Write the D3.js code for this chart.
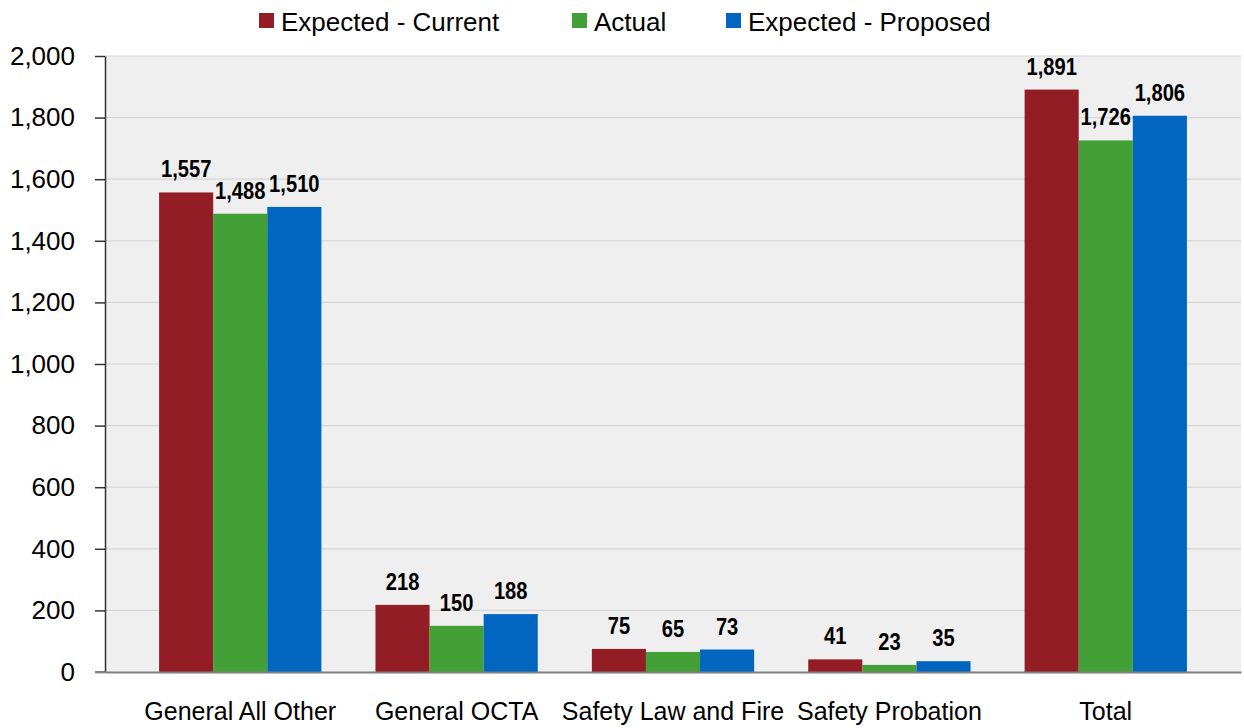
<!DOCTYPE html>
<html>
<head>
<meta charset="utf-8">
<script src="https://cdn.jsdelivr.net/npm/d3@7"></script>
<style>
  body { margin: 0; background: #ffffff; }
  svg { display: block; font-family: "Liberation Sans", Arial, sans-serif; }
</style>
</head>
<body>
<svg id="chart" width="1244" height="728"></svg>
<script>
// chart data
let categories = ['General All Other', 'General OCTA', 'Safety Law and Fire', 'Safety Probation', 'Total'];
let series_names = ['Expected - Current', 'Actual', 'Expected - Proposed'];
let expected_current = [1557, 218, 75, 41, 1891];
let actual = [1488, 150, 65, 23, 1726];
let expected_proposed = [1510, 188, 73, 35, 1806];
let y_ticks = [0, 200, 400, 600, 800, 1000, 1200, 1400, 1600, 1800, 2000];

let series_colors = ['#921d24', '#43a037', '#0066c0'];
let series_values = [expected_current, actual, expected_proposed];

let plot_left = 105, plot_right = 1241, plot_top = 56, plot_bottom = 672;

let svg = d3.select('#chart');

let x = d3.scaleBand()
    .domain(categories)
    .range([plot_left, plot_right])
    .paddingInner(0.25)
    .paddingOuter(0.25);

let x_inner = d3.scaleBand()
    .domain(series_names)
    .range([0, x.bandwidth()]);

let y = d3.scaleLinear()
    .domain([0, 2000])
    .range([plot_bottom, plot_top]);

// plot background
svg.append('rect')
    .attr('x', plot_left)
    .attr('y', plot_top)
    .attr('width', plot_right - plot_left)
    .attr('height', plot_bottom - plot_top)
    .attr('fill', '#efefef');

// gridlines
svg.append('g')
    .selectAll('line')
    .data(y_ticks.filter(d => d > 0))
    .join('line')
    .attr('x1', plot_left)
    .attr('x2', plot_right)
    .attr('y1', d => y(d))
    .attr('y2', d => y(d))
    .attr('stroke', '#d6d6d6')
    .attr('stroke-width', 1.2);

// bars
let table = [];
categories.forEach(function (c, i) {
    series_names.forEach(function (s, j) {
        table.push({category: c, series: s, value: series_values[j][i], color: series_colors[j]});
    });
});

let bars = svg.append('g');
bars.selectAll('rect')
    .data(table)
    .join('rect')
    .attr('x', d => x(d.category) + x_inner(d.series))
    .attr('y', d => y(d.value))
    .attr('width', x_inner.bandwidth())
    .attr('height', d => y(0) - y(d.value))
    .attr('fill', d => d.color);

// value labels (condensed bold)
let labels = svg.append('g');
labels.selectAll('text')
    .data(table)
    .join('text')
    .attr('transform', d => 'translate(' + (x(d.category) + x_inner(d.series) + x_inner.bandwidth() / 2) + ',' + (y(d.value) - 15) + ') scale(0.84,1)')
    .attr('text-anchor', 'middle')
    .style('font-size', '24px')
    .style('font-weight', 'bold')
    .attr('fill', '#000')
    .text(d => d3.format(',')(d.value));

// y axis
let y_axis = svg.append('g')
    .attr('transform', 'translate(' + plot_left + ',0)')
    .call(d3.axisLeft(y).tickValues(y_ticks).tickFormat(d3.format(',')).tickSize(10).tickSizeOuter(0).tickPadding(20));

y_axis.select('.domain').attr('stroke', '#333').attr('stroke-width', 1.5);
y_axis.selectAll('.tick line').attr('stroke', '#333').attr('stroke-width', 1.5);
y_axis.selectAll('.tick text')
    .style('font-size', '26px')
    .style('font-family', '"Liberation Sans", Arial, sans-serif')
    .attr('fill', '#000');

// x axis
let x_axis = svg.append('g')
    .attr('transform', 'translate(0,' + plot_bottom + ')')
    .call(d3.axisBottom(x).tickSize(0).tickSizeOuter(0).tickPadding(30));

x_axis.select('.domain').attr('stroke', '#808080').attr('stroke-width', 2);
x_axis.selectAll('.tick text')
    .style('font-size', '25px')
    .style('font-family', '"Liberation Sans", Arial, sans-serif')
    .attr('fill', '#000');

svg.append('line')
    .attr('x1', plot_left - 10)
    .attr('x2', plot_left)
    .attr('y1', plot_bottom)
    .attr('y2', plot_bottom)
    .attr('stroke', '#808080')
    .attr('stroke-width', 2);

// legend
let legend_x = [259, 572, 726];
let legend = svg.append('g');
let legend_items = legend.selectAll('g')
    .data(series_names)
    .join('g')
    .attr('transform', (d, i) => 'translate(' + legend_x[i] + ',0)');

legend_items.append('rect')
    .attr('x', 0)
    .attr('y', 13)
    .attr('width', 15)
    .attr('height', 15)
    .attr('fill', (d, i) => series_colors[i]);

legend_items.append('text')
    .attr('x', 22)
    .attr('y', 31)
    .style('font-size', '26px')
    .attr('fill', '#000')
    .text(d => d);
</script>
</body>
</html>
